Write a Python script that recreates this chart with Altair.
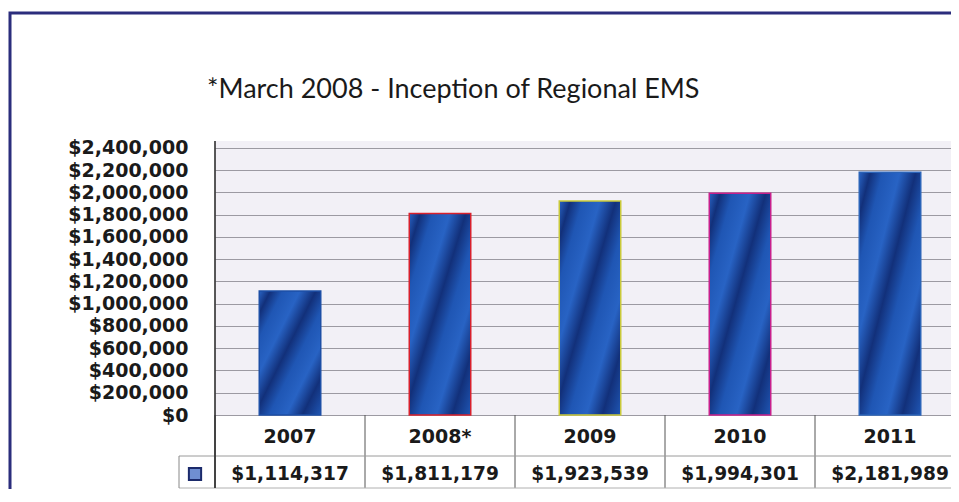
import altair as alt
import pandas as pd

# ---- data ----
years = ["2007", "2008*", "2009", "2010", "2011"]
revenue = [1114317, 1811179, 1923539, 1994301, 2181989]
bar_outline = ["#1d4fa6", "#d8202c", "#c9c93a", "#c8208c", "#2a63b8"]
y_ticks = [0, 200000, 400000, 600000, 800000, 1000000, 1200000, 1400000,
           1600000, 1800000, 2000000, 2200000, 2400000]
title_text = "*March 2008 - Inception of Regional EMS"

df = pd.DataFrame({"year": years, "revenue": revenue})
one = pd.DataFrame({"k": [0]})

# ---- layout ----
W, H = 736, 274
BAND_RANGE = 750
Y_MAX = 2462900
FONT = "DejaVu Sans"
PAD_TOP, PAD_BOTTOM = 133, 74

xscale = alt.Scale(domain=years, range=[0, BAND_RANGE], paddingInner=0, paddingOuter=0)
yscale = alt.Scale(domain=[0, Y_MAX], nice=False, zero=True)

base_blue = "#1f56b4"
light_blue = "#2863c4"
dark_blue = "#12307a"
stripes = alt.Gradient(
    gradient="linear",
    x1=0, y1=0, x2=1, y2=1,
    stops=[
        alt.GradientStop(color=light_blue, offset=0.0),
        alt.GradientStop(color=dark_blue, offset=0.09),
        alt.GradientStop(color=base_blue, offset=0.19),
        alt.GradientStop(color=light_blue, offset=0.33),
        alt.GradientStop(color=dark_blue, offset=0.46),
        alt.GradientStop(color=base_blue, offset=0.58),
        alt.GradientStop(color=light_blue, offset=0.72),
        alt.GradientStop(color=dark_blue, offset=0.85),
        alt.GradientStop(color=base_blue, offset=1.0),
    ],
)

bars = alt.Chart(df).mark_bar(
    width=alt.RelativeBandSize(band=0.41), fill=stripes, strokeWidth=1.5
).encode(
    x=alt.X("year:N", scale=xscale, axis=None, sort=years),
    y=alt.Y("revenue:Q", scale=yscale, title=None,
            axis=alt.Axis(values=y_ticks, format="$,.0f", grid=True,
                          gridColor="#9c9aa2", gridWidth=1, ticks=False,
                          domain=False, labelPadding=27, labelFont=FONT,
                          labelFontWeight="bold", labelFontSize=19,
                          labelColor="#1a1a1a", labelOverlap=False,
                          labelBaseline="middle", labelFlush=False)),
    stroke=alt.Stroke("year:N", scale=alt.Scale(domain=years, range=bar_outline),
                      legend=None),
)

year_text = alt.Chart(df).mark_text(
    font=FONT, fontWeight="bold", fontSize=19, color="#1a1a1a", baseline="middle"
).encode(
    x=alt.X("year:N", scale=xscale, axis=None, sort=years),
    y=alt.value(H + 22),
    text="year:N",
)

value_text = alt.Chart(df).mark_text(
    font=FONT, fontWeight="bold", fontSize=18.6, color="#1a1a1a", baseline="middle"
).encode(
    x=alt.X("year:N", scale=xscale, axis=None, sort=years),
    y=alt.value(H + 59),
    text=alt.Text("revenue:Q", format="$,.0f"),
)

separators = alt.Chart(df).mark_rule(color="#555555", strokeWidth=1).encode(
    x=alt.X("year:N", scale=xscale, axis=None, sort=years, bandPosition=0),
    y=alt.value(H),
    y2=alt.value(H + 73),
)

row_line = alt.Chart(one).mark_rule(color="#9a9a9a", strokeWidth=1).encode(
    x=alt.value(-36), x2=alt.value(W), y=alt.value(H + 41)
)
bottom_line = alt.Chart(one).mark_rule(color="#b0b0b0", strokeWidth=1).encode(
    x=alt.value(-36), x2=alt.value(W), y=alt.value(H + 73)
)
key_cell = alt.Chart(one).mark_rule(color="#888888", strokeWidth=1).encode(
    x=alt.value(-36), y=alt.value(H + 41), y2=alt.value(H + 73)
)
axis_line = alt.Chart(one).mark_rule(color="#222222", strokeWidth=1.5).encode(
    x=alt.value(0), y=alt.value(0), y2=alt.value(H + 73)
)
key_square = alt.Chart(one).mark_square(
    size=150, fill="#6f8fd2", stroke="#1b2a6b", strokeWidth=2, opacity=1
).encode(x=alt.value(-20), y=alt.value(H + 59))

frame = alt.Chart(one).mark_rect(
    fillOpacity=0, stroke="#2b2d7c", strokeWidth=3
).encode(
    x=alt.value(-205), x2=alt.value(W + 20),
    y=alt.value(-128), y2=alt.value(H + 100),
)

title = alt.Chart(pd.DataFrame({"t": [title_text]})).mark_text(
    font="Lato", fontSize=27, color="#1a1a1a", align="left", baseline="alphabetic"
).encode(x=alt.value(-8), y=alt.value(-43), text="t:N")

chart = alt.layer(
    bars, separators, row_line, bottom_line, key_cell, axis_line,
    year_text, value_text, key_square, title, frame
).properties(
    width=W, height=H,
    padding={"left": 207, "top": PAD_TOP, "right": 0, "bottom": PAD_BOTTOM},
    autosize=alt.AutoSizeParams(type="none"),
    background="white",
).configure_view(fill="#f2f0f6", stroke=None)

chart.save("out.html", embed_options={"renderer": "svg", "actions": False})
